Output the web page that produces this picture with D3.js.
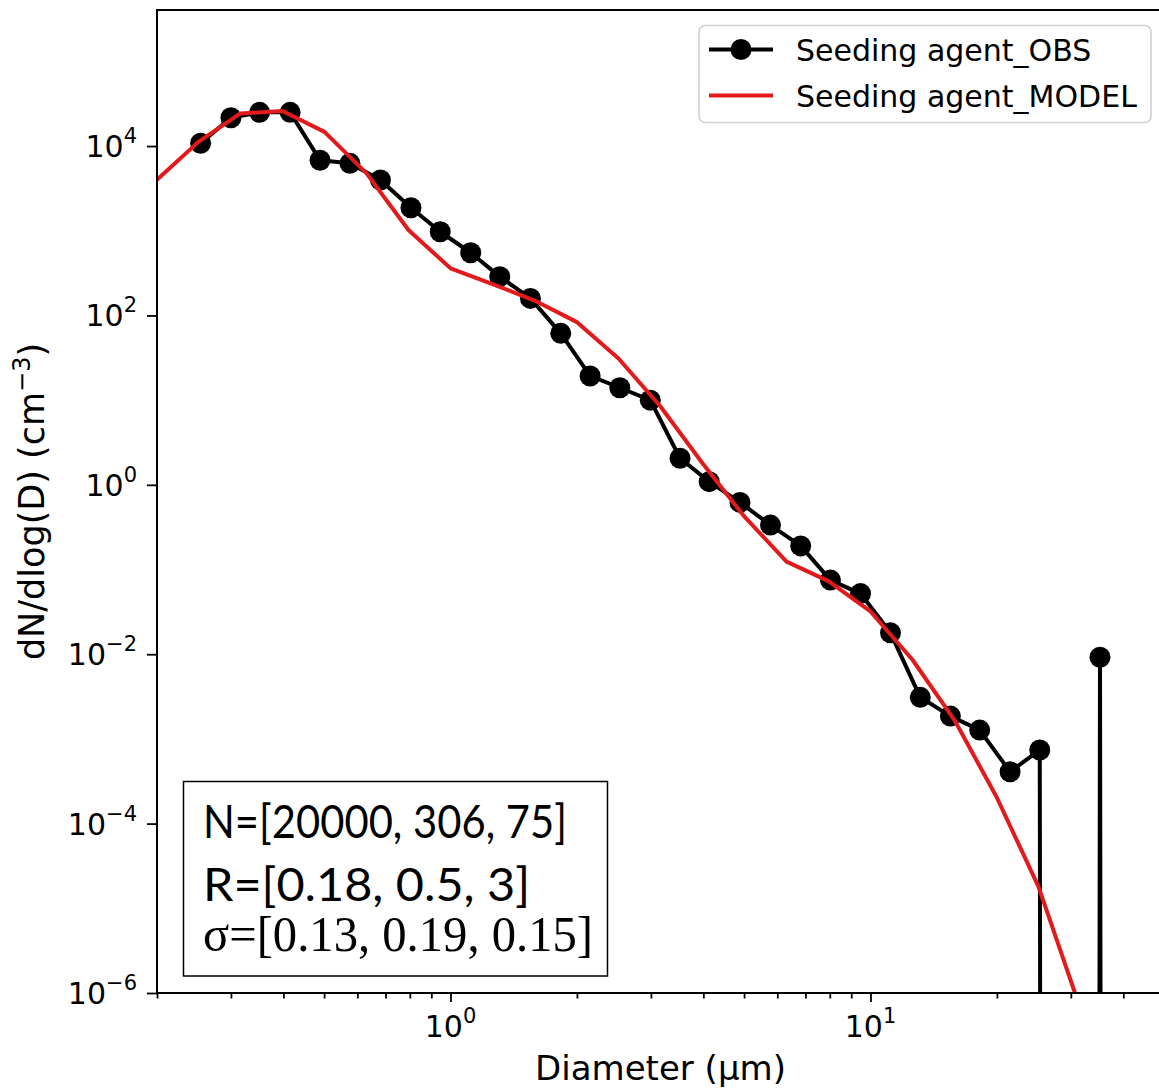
<!DOCTYPE html>
<html>
<head>
<meta charset="utf-8">
<script src="https://cdn.jsdelivr.net/npm/d3@7"></script>
<style>
  body { margin: 0; background: #fff; }
  svg { display: block; }
</style>
</head>
<body>
<div id="chart"></div>
<script>
// observed size distribution (0 = empty bin)
var obsD = [0.254, 0.30, 0.351, 0.415, 0.489, 0.576, 0.681, 0.805, 0.945, 1.117,
    1.31, 1.55, 1.83, 2.15, 2.53, 2.99, 3.52, 4.13, 4.89, 5.78,
    6.82, 8.03, 9.47, 11.16, 13.14, 15.5, 18.2, 21.5, 25.3, 29.8, 35.2, 41.5];
var obsN = [1.08e4, 2.16e4, 2.5e4, 2.5e4, 6.8e3, 6.25e3, 3.97e3, 1.87e3, 973, 550,
    287, 159, 61.5, 19.3, 14.0, 10.0, 2.06, 1.09, 0.62, 0.335,
    0.19, 0.075, 0.052, 0.0179, 0.0031, 0.00186, 0.00127, 4.1e-4, 7.4e-4, 0, 0.0092, 0];

// model curve
var modD = [0.2, 0.251, 0.316, 0.398, 0.501, 0.631, 0.794, 1.0, 1.259, 1.585,
    1.995, 2.512, 3.162, 3.981, 5.012, 6.31, 7.943, 10, 12.59, 15.85,
    19.95, 25.12, 31.62];
var modN = [4.0e3, 1.12e4, 2.43e4, 2.59e4, 1.47e4, 4.75e3, 1.02e3, 360, 235, 150,
    84, 31, 8.4, 1.8, 0.42, 0.124, 0.073, 0.032, 0.0086, 0.00167,
    2.08e-4, 1.8e-5, 6.5e-7];

var xMajor = [1, 10];
var xMinor = [0.2, 0.3, 0.4, 0.5, 0.6, 0.7, 0.8, 0.9, 2, 3, 4, 5, 6, 7, 8, 9, 20, 30, 40];
var yMajor = [1e-6, 1e-4, 1e-2, 1, 1e2, 1e4];
var seriesNames = ["Seeding agent_OBS", "Seeding agent_MODEL"];
var infoLines = ["N=[20000, 306, 75]", "R=[0.18, 0.5, 3]", "\u03c3=[0.13, 0.19, 0.15]"];

var svgWidth = 1159;
var svgHeight = 1090;

var plot = { left: 157, right: 1164, top: 10, bottom: 993 };

var svg = d3.select("#chart")
    .append("svg")
    .attr("width", svgWidth)
    .attr("height", svgHeight)
    .style("font-family", "'DejaVu Sans', sans-serif");

svg.append("rect").attr("width", svgWidth).attr("height", svgHeight).attr("fill", "#fff");

var x = d3.scaleLog().domain([0.2, 50]).range([plot.left, plot.right]);
var y = d3.scaleLog().domain([1e-6, 4.04e5]).range([plot.bottom, plot.top]);

// zero values drop far below the axes, like matplotlib does
function yPos(v) {
    return v > 0 ? y(v) : plot.bottom + 20000;
}

svg.append("clipPath").attr("id", "plotclip")
    .append("rect")
    .attr("x", plot.left).attr("y", plot.top)
    .attr("width", plot.right - plot.left)
    .attr("height", plot.bottom - plot.top);

var obs = obsD.map(function (d, i) { return [d, obsN[i]]; });
var mod = modD.map(function (d, i) { return [d, modN[i]]; });

var lineGen = d3.line()
    .x(d => x(d[0]))
    .y(d => yPos(d[1]));

var lines = svg.append("g").attr("clip-path", "url(#plotclip)");

lines.append("path")
    .datum(obs)
    .attr("d", lineGen)
    .attr("fill", "none")
    .attr("stroke", "#000")
    .attr("stroke-width", 4)
    .attr("stroke-linejoin", "round");

lines.selectAll("circle")
    .data(obs.filter(d => d[1] > 0))
    .enter()
    .append("circle")
    .attr("cx", d => x(d[0]))
    .attr("cy", d => y(d[1]))
    .attr("r", 10.5)
    .attr("fill", "#000");

lines.append("path")
    .datum(mod)
    .attr("d", lineGen)
    .attr("fill", "none")
    .attr("stroke", "#e31a1c")
    .attr("stroke-width", 4)
    .attr("stroke-linejoin", "round");

// axes
var bottomAxis = d3.axisBottom(x).tickValues(xMajor).tickFormat("").tickSize(9).tickSizeOuter(0);
var bottomMinor = d3.axisBottom(x).tickValues(xMinor).tickFormat("").tickSize(5.5).tickSizeOuter(0);
var leftAxis = d3.axisLeft(y).tickValues(yMajor).tickFormat("").tickSize(10).tickSizeOuter(0);

[bottomAxis, bottomMinor].forEach(function (ax) {
    var g = svg.append("g")
        .attr("transform", `translate(0, ${plot.bottom})`)
        .call(ax);
    g.select(".domain").remove();
    g.selectAll("line").attr("stroke", "#000").attr("stroke-width", 1.8);
});

var gLeft = svg.append("g")
    .attr("transform", `translate(${plot.left}, 0)`)
    .call(leftAxis);
gLeft.select(".domain").remove();
gLeft.selectAll("line").attr("stroke", "#000").attr("stroke-width", 1.8);

// spines
svg.append("rect")
    .attr("x", plot.left).attr("y", plot.top)
    .attr("width", plot.right - plot.left)
    .attr("height", plot.bottom - plot.top)
    .attr("fill", "none")
    .attr("stroke", "#000")
    .attr("stroke-width", 2);

// tick labels with superscript exponents
function powLabel(sel, v) {
    var e = Math.round(Math.log10(v));
    sel.append("tspan").text("10");
    sel.append("tspan")
        .attr("dy", -14)
        .attr("font-size", 21)
        .text(String(e).replace("-", "\u2212"));
}

xMajor.forEach(function (v) {
    var t = svg.append("text")
        .attr("x", x(v))
        .attr("y", 1037)
        .attr("text-anchor", "middle")
        .attr("font-size", 30);
    powLabel(t, v);
});

yMajor.forEach(function (v) {
    var t = svg.append("text")
        .attr("x", 137)
        .attr("y", y(v) + 11)
        .attr("text-anchor", "end")
        .attr("font-size", 30);
    powLabel(t, v);
});

// axis titles
svg.append("text")
    .attr("x", (plot.left + plot.right) / 2)
    .attr("y", 1080)
    .attr("text-anchor", "middle")
    .attr("font-size", 34)
    .text("Diameter (\u03bcm)");

var yTitle = svg.append("text")
    .attr("transform", `translate(44, ${(plot.top + plot.bottom) / 2}) rotate(-90)`)
    .attr("text-anchor", "middle")
    .attr("font-size", 35);
yTitle.append("tspan").text("dN/dlog(D) (cm");
yTitle.append("tspan").attr("dy", -14).attr("font-size", 24).text("\u22123");
yTitle.append("tspan").attr("dy", 14).text(")");

// legend
var legend = svg.append("g");
legend.append("rect")
    .attr("x", 699).attr("y", 25.5)
    .attr("width", 452).attr("height", 97)
    .attr("rx", 6)
    .attr("fill", "#fff")
    .attr("stroke", "#d0d0d0")
    .attr("stroke-width", 1.6);

var legRows = [49.5, 95.5];
legend.append("line")
    .attr("x1", 709).attr("x2", 773)
    .attr("y1", legRows[0]).attr("y2", legRows[0])
    .attr("stroke", "#000").attr("stroke-width", 4);
legend.append("circle")
    .attr("cx", 741).attr("cy", legRows[0]).attr("r", 10.5).attr("fill", "#000");
legend.append("line")
    .attr("x1", 709).attr("x2", 773)
    .attr("y1", legRows[1]).attr("y2", legRows[1])
    .attr("stroke", "#e31a1c").attr("stroke-width", 4);

seriesNames.forEach(function (name, i) {
    legend.append("text")
        .attr("x", 796)
        .attr("y", legRows[i] + 11)
        .attr("font-size", 30)
        .text(name);
});

// parameter box
svg.append("rect")
    .attr("x", 183.5).attr("y", 781.5)
    .attr("width", 424).attr("height", 194.5)
    .attr("fill", "#fff")
    .attr("stroke", "#000")
    .attr("stroke-width", 1.5);

var infoY = [838, 901, 951];
var infoLen = [364, 327, 390];
infoLines.forEach(function (s, i) {
    svg.append("text")
        .attr("x", 203)
        .attr("y", infoY[i])
        .attr("font-family", i < 2 ? "Lato, 'Open Sans', sans-serif" : "'Liberation Serif', 'DejaVu Serif', serif")
        .attr("font-size", i < 2 ? 47 : 50)
        .attr("textLength", infoLen[i])
        .attr("lengthAdjust", "spacingAndGlyphs")
        .text(s);
});
</script>
</body>
</html>
